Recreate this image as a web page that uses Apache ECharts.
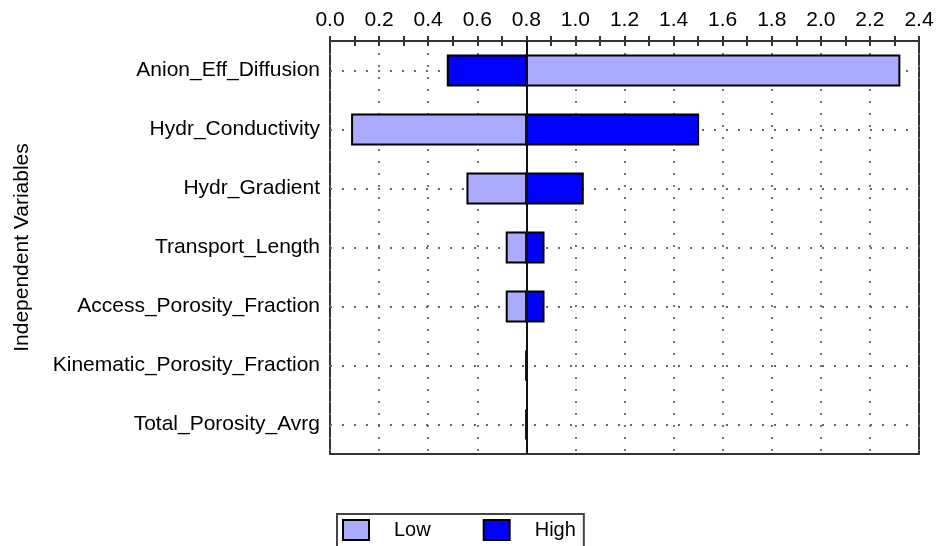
<!DOCTYPE html>
<html>
<head>
<meta charset="utf-8">
<script src="https://cdn.jsdelivr.net/npm/echarts@6/dist/echarts.min.js"></script>
<style>
html,body{margin:0;padding:0;background:#fff;}
#chart{width:937px;height:546px;}
</style>
</head>
<body>
<div id="chart"></div>
<script>
const categories = ['Anion_Eff_Diffusion','Hydr_Conductivity','Hydr_Gradient','Transport_Length','Access_Porosity_Fraction','Kinematic_Porosity_Fraction','Total_Porosity_Avrg'];
const lowValues = [2.32, 0.09, 0.56, 0.72, 0.72, 0.8, 0.8];
const highValues = [0.48, 1.50, 1.03, 0.87, 0.87, 0.8, 0.8];
const baseValue = 0.8;
const xTicks = [0.0, 0.2, 0.4, 0.6, 0.8, 1.0, 1.2, 1.4, 1.6, 1.8, 2.0, 2.2, 2.4];

const FONT = 'Liberation Sans, Arial, sans-serif';
const LOW_COLOR = '#AAAAFF';
const HIGH_COLOR = '#0000FF';

function makeRender(color) {
  return function (params, api) {
    const cat = api.value(0);
    const v = api.value(1);
    const p0 = api.coord([baseValue, cat]);
    const p1 = api.coord([v, cat]);
    const h = api.size([0, 1])[1] * 0.51;
    return {
      type: 'rect',
      shape: { x: Math.min(p0[0], p1[0]), y: p0[1] - h / 2, width: Math.abs(p1[0] - p0[0]), height: h },
      style: { fill: color, stroke: '#000', lineWidth: 2 }
    };
  };
}

const chart = echarts.init(document.getElementById('chart'), null, { renderer: 'canvas' });
const option = {
  animation: false,
  backgroundColor: '#fff',
  textStyle: { fontFamily: FONT },
  grid: { left: 330, right: 18, top: 41, bottom: 92, show: true, borderColor: '#333', borderWidth: 2, backgroundColor: 'transparent' },
  legend: {
    left: 337, top: 514,
    orient: 'horizontal',
    icon: 'rect',
    itemWidth: 26, itemHeight: 20,
    itemGap: 52,
    padding: [5, 8, 20, 5],
    borderColor: '#444', borderWidth: 2,
    textStyle: { fontSize: 20, color: '#000', fontFamily: FONT, padding: [0, 0, 0, 20] },
    data: [
      { name: 'Low', itemStyle: { color: LOW_COLOR, borderColor: '#000', borderWidth: 2 } },
      { name: 'High', itemStyle: { color: HIGH_COLOR, borderColor: '#000', borderWidth: 2 } }
    ]
  },
  xAxis: [
    {
      type: 'value', position: 'top', min: xTicks[0], max: xTicks[xTicks.length - 1], interval: 0.2,
      axisLine: { show: true, lineStyle: { color: '#333', width: 2 } },
      axisTick: { show: true, length: 5, lineStyle: { color: '#333', width: 2 } },
      minorTick: { show: true, splitNumber: 2, length: 5, lineStyle: { color: '#333', width: 2 } },
      axisLabel: { fontSize: 21, color: '#000', margin: 10, formatter: v => v.toFixed(1) },
      splitLine: { show: true, lineStyle: { color: '#666', width: 1.8, type: [2, 10] } }
    },
    {
      type: 'value', position: 'top', min: xTicks[0], max: xTicks[xTicks.length - 1], interval: 0.2,
      axisLine: { show: false },
      axisTick: { show: true, inside: true, length: 5, lineStyle: { color: '#333', width: 2 } },
      minorTick: { show: true, splitNumber: 2, length: 5, lineStyle: { color: '#333', width: 2 } },
      axisLabel: { show: false },
      splitLine: { show: false }
    }
  ],
  yAxis: {
    type: 'category', inverse: true, data: categories,
    axisLine: { show: false }, axisTick: { show: false }, splitLine: { show: false },
    axisLabel: { fontSize: 21, color: '#000', margin: 10 },
    name: 'Independent Variables', nameLocation: 'middle', nameRotate: 90, nameGap: 297,
    nameTextStyle: { fontSize: 21, color: '#000' }
  },
  series: [
    {
      name: 'Low', type: 'custom', xAxisIndex: 0, yAxisIndex: 0,
      itemStyle: { color: LOW_COLOR, borderColor: '#000', borderWidth: 2 },
      encode: { x: 1, y: 0 },
      renderItem: makeRender(LOW_COLOR),
      data: categories.map((c, i) => [i, lowValues[i]]),
      z: 3,
      markLine: {
        silent: true, symbol: 'none', label: { show: false }, z: 1,
        lineStyle: { color: '#666', width: 1.8, type: [2, 10] },
        data: categories.map(c => ({ yAxis: c }))
      }
    },
    {
      name: 'High', type: 'custom', xAxisIndex: 0, yAxisIndex: 0,
      itemStyle: { color: HIGH_COLOR, borderColor: '#000', borderWidth: 2 },
      encode: { x: 1, y: 0 },
      renderItem: makeRender(HIGH_COLOR),
      data: categories.map((c, i) => [i, highValues[i]]),
      z: 3,
      markLine: {
        silent: true, symbol: 'none', label: { show: false }, z: 5,
        lineStyle: { color: '#111', width: 2, type: 'solid' },
        data: [{ xAxis: baseValue }]
      }
    }
  ]
};
chart.setOption(option);
</script>
</body>
</html>
